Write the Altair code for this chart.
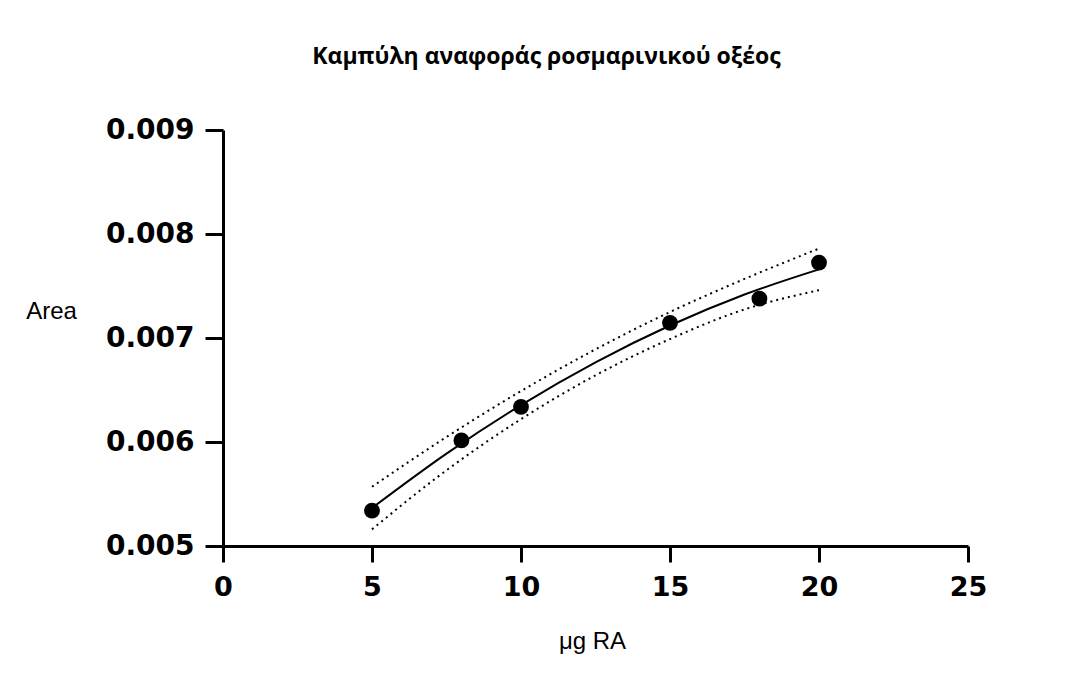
import altair as alt
import pandas as pd

# measured points
conc = [5, 8, 10, 15, 18, 20]
area = [0.00534, 0.006015, 0.006337, 0.007146, 0.007378, 0.007725]

# fitted curve and its confidence band
fit_x = [5, 7.5, 10, 12.5, 15, 17.5, 20]
fit_y = [0.005365, 0.005888, 0.006355, 0.006766, 0.00712, 0.007418, 0.00766]
band_hi = [0.00557, 0.006048, 0.00649, 0.006891, 0.00725, 0.007568, 0.00786]
band_lo = [0.00516, 0.005728, 0.00622, 0.006641, 0.00699, 0.007275, 0.00746]

x_ticks = [0, 5, 10, 15, 20, 25]
y_ticks = [0.005, 0.006, 0.007, 0.008, 0.009]

pts = pd.DataFrame({"x": conc, "y": area})
fit = pd.DataFrame({"x": fit_x, "y": fit_y, "hi": band_hi, "lo": band_lo})

xs = alt.Scale(domain=[0, 25], nice=False, zero=False)
ys = alt.Scale(domain=[0.005, 0.009], nice=False, zero=False)

x_axis = alt.Axis(
    title="μg RA", values=x_ticks, format="d", grid=False,
    domainColor="black", domainWidth=3, tickColor="black", tickWidth=3, tickSize=16,
    labelFont="DejaVu Sans", labelFontWeight="bold", labelFontSize=27, labelColor="black",
    labelPadding=12, labelFlush=False,
    titleFont="Liberation Sans", titleFontWeight="normal", titleFontSize=24, titleColor="black",
    titleX=369, titleY=102, titleBaseline="alphabetic", titleAlign="center",
)
y_axis = alt.Axis(
    title="Area", values=y_ticks, format=".3f", grid=False,
    domainColor="black", domainWidth=3, tickColor="black", tickWidth=3, tickSize=18,
    labelFont="DejaVu Sans", labelFontWeight="bold", labelFontSize=28, labelColor="black",
    labelPadding=11, labelFlush=False,
    titleFont="Liberation Sans", titleFontWeight="normal", titleFontSize=24, titleColor="black",
    titleAngle=0, titleX=-172, titleY=188, titleBaseline="alphabetic", titleAlign="center",
)

base = alt.Chart(fit)

curve = base.mark_line(color="black", strokeWidth=2, interpolate="monotone").encode(
    x=alt.X("x:Q", scale=xs, axis=x_axis),
    y=alt.Y("y:Q", scale=ys, axis=y_axis),
)
upper = base.mark_line(color="black", strokeWidth=2, strokeDash=[2, 4], interpolate="monotone").encode(
    x=alt.X("x:Q", scale=xs), y=alt.Y("hi:Q", scale=ys)
)
lower = base.mark_line(color="black", strokeWidth=2, strokeDash=[2, 4], interpolate="monotone").encode(
    x=alt.X("x:Q", scale=xs), y=alt.Y("lo:Q", scale=ys)
)
dots = alt.Chart(pts).mark_point(filled=True, color="black", opacity=1, size=250).encode(
    x=alt.X("x:Q", scale=xs), y=alt.Y("y:Q", scale=ys)
)

chart = alt.layer(upper, lower, curve, dots).properties(
    width=745,
    height=416,
    autosize=alt.AutoSizeParams(type="none"),
    padding={"left": 215, "top": 122, "right": 90, "bottom": 120},
    title=alt.TitleParams(
        "Καμπύλη αναφοράς ροσμαρινικού οξέος",
        font="Open Sans", fontSize=23, fontWeight="bold", color="black",
        anchor="middle", frame="group", dx=-49, offset=29, baseline="alphabetic",
    ),
).configure(background="white", view=alt.ViewConfig(stroke=None))

chart.save("out.html", embed_options={"renderer": "svg", "actions": False})
